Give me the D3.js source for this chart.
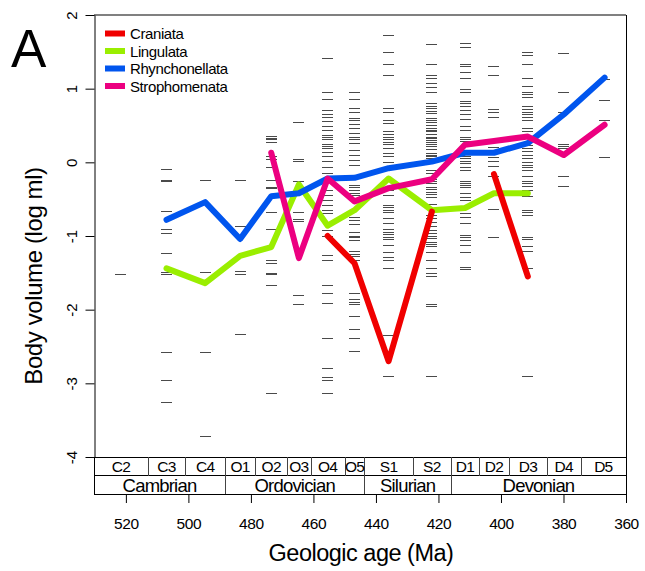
<!DOCTYPE html>
<html><head><meta charset="utf-8">
<script src="https://cdn.jsdelivr.net/npm/d3@7"></script>
<style>
body{margin:0;background:#fff}
svg{display:block;font-family:"Liberation Sans",Arial,Helvetica,sans-serif}
</style>
</head><body>
<svg id="chart" width="645" height="571"></svg>
<script>
// ---------------- DATA ----------------
const stages = ["C2","C3","C4","O1","O2","O3","O4","O5","S1","S2","D1","D2","D3","D4","D5"];
const stageBase = [530.2, 513, 501, 488.3, 478.6, 468.4, 460.9, 450, 443.7, 428.2, 416, 407, 397.5, 385.3, 374.5];
const stageTop  = [513, 501, 488.3, 478.6, 468.4, 460.9, 450, 443.7, 428.2, 416, 407, 397.5, 385.3, 374.5, 359.2];
const periods = ["Cambrian","Ordovician","Silurian","Devonian"];
const periodBase = [530.2, 488.3, 443.7, 416];
const periodTop  = [488.3, 443.7, 416, 359.2];
const xTicks = [520, 500, 480, 460, 440, 420, 400, 380, 360];
const yTicks = [-4, -3, -2, -1, 0, 1, 2];

const seriesNames = ["Craniata","Lingulata","Rhynchonellata","Strophomenata"];
const seriesColors = ["#F00000","#9AEE00","#0055EE","#EC0080"];
// mean log body volume per stage (null = no data)
const craniata       = [null,null,null,null,null,null,-1.00,-1.37,-2.70,-0.67,null,-0.16,-1.55,null,null];
const lingulata      = [null,-1.44,-1.64,-1.27,-1.15,-0.30,-0.86,-0.65,-0.22,-0.65,-0.62,-0.42,-0.42,null,null];
const rhynchonellata = [null,-0.78,-0.54,-1.04,-0.46,-0.42,-0.22,-0.21,-0.08,0.01,0.13,0.13,0.26,0.65,1.15];
const strophomenata  = [null,null,null,null,0.13,-1.30,-0.22,-0.53,-0.35,-0.23,0.24,0.29,0.35,0.10,0.51];

// individual genus log volumes per stage (rug dashes)
const genusVolumes = [
  [-1.51],
  [-0.09,-0.24,-0.26,-0.66,-0.90,-0.96,-1.23,-1.49,-1.51,-2.58,-2.95,-3.25],
  [-0.24,-1.49,-2.58,-3.72],
  [-0.24,-0.86,-1.48,-1.52,-2.33],
  [0.36,0.33,0.31,0.28,0.08,0.04,-0.07,-0.24,-0.33,-0.35,-0.67,-0.90,-1.33,-1.36,-1.50,-1.52,-1.67,-3.13],
  [0.55,0.04,0.02,-0.26,-0.67,-0.77,-0.79,-1.80,-1.92],
  [1.42,0.95,0.86,0.71,0.66,0.61,0.56,0.50,0.44,0.37,0.34,0.31,0.25,0.22,0.19,0.14,0.08,0.02,-0.06,-0.15,-0.37,-0.45,-0.51,-0.58,-0.65,-0.69,-0.81,-0.92,-1.00,-1.26,-1.33,-1.67,-1.77,-1.91,-2.39,-2.79,-2.91,-2.95,-3.13],
  [0.95,0.86,0.74,0.68,0.60,0.57,0.52,0.46,0.40,0.34,0.31,0.26,0.17,0.10,0.03,-0.03,-0.31,-0.34,-0.37,-0.42,-0.45,-0.74,-0.78,-0.84,-0.95,-1.00,-1.02,-1.05,-1.21,-1.24,-1.27,-1.33,-1.77,-1.85,-1.89,-1.92,-2.09,-2.26,-2.39,-2.56],
  [1.73,1.50,1.34,1.18,0.74,0.69,0.58,0.54,0.43,0.38,0.35,0.32,0.28,0.25,0.19,0.13,0.08,0.01,-0.26,-0.33,-0.37,-0.44,-0.58,-0.61,-0.65,-0.68,-0.75,-0.82,-0.91,-0.94,-0.97,-1.02,-1.04,-1.12,-1.22,-1.28,-1.33,-1.43,-2.34,-2.90],
  [1.60,1.34,1.18,1.15,1.08,1.02,0.96,0.80,0.77,0.74,0.70,0.67,0.60,0.57,0.55,0.51,0.47,0.44,0.42,0.39,0.35,0.33,0.30,0.28,0.25,0.22,0.18,0.13,0.10,0.08,0.06,-0.10,-0.14,-0.22,-0.25,-0.28,-0.33,-0.36,-0.40,-0.43,-0.47,-0.56,-0.71,-0.76,-0.81,-0.87,-0.92,-0.96,-1.00,-1.03,-1.08,-1.11,-1.14,-1.22,-1.33,-1.43,-1.50,-1.54,-1.92,-1.95,-2.90],
  [1.62,1.57,1.34,1.31,1.22,1.15,0.99,0.96,0.83,0.80,0.76,0.71,0.66,0.59,0.50,0.44,0.34,0.32,0.29,0.09,0.06,0.02,-0.01,-0.06,-0.10,-0.26,-0.28,-0.31,-0.33,-0.42,-0.47,-0.51,-0.69,-0.74,-0.82,-0.99,-1.01,-1.05,-1.12,-1.22,-1.42,-1.45],
  [1.31,1.18,0.72,0.69,0.62,0.21,0.07,0.02,-0.05,-0.18,-0.63,-1.02],
  [1.50,1.46,1.33,1.14,1.04,0.96,0.93,0.89,0.76,0.72,0.69,0.66,0.62,0.58,0.47,0.43,0.24,0.19,0.15,0.10,0.06,0.00,-0.03,-0.07,-0.11,-0.19,-0.25,-0.28,-0.32,-0.37,-0.46,-0.65,-0.68,-0.72,-1.01,-1.04,-1.13,-1.20,-1.43,-2.90],
  [1.49,0.96,0.69,0.25,0.22,0.19,-0.18,-0.32],
  [1.13,0.84,0.58,0.07]
];

// ---------------- LAYOUT ----------------
const svg = d3.select("#chart");
const L = 94, R = 626, T = 15, B = 457;
const rowMid = 475.5, rowBot = 494;
const x = d3.scaleLinear().domain([530.2, 360]).range([L, R]);
const y = d3.scaleLinear().domain([-4, 2]).range([B, T]);
const clampX = v => Math.max(L, Math.min(R, x(v)));
const mids = stages.map((s, i) => (stageBase[i] + stageTop[i]) / 2);

// panel label
svg.append("text").attr("x", 11).attr("y", 67).attr("font-size", 53).text("A");

// rug dashes
const dashG = svg.append("g").attr("stroke", "#4a4a4a").attr("stroke-width", 1.2).attr("shape-rendering", "crispEdges");
genusVolumes.forEach((vals, i) => {
  const cx = x(mids[i]);
  dashG.selectAll(null).data(vals).join("line")
    .attr("x1", cx - 5.5).attr("x2", cx + 5.5)
    .attr("y1", d => Math.round(y(d)) + 0.5).attr("y2", d => Math.round(y(d)) + 0.5);
});

// series lines
const seriesData = [lingulata, rhynchonellata, strophomenata, craniata];
const seriesCol = [seriesColors[1], seriesColors[2], seriesColors[3], seriesColors[0]];
const line = d3.line().defined(d => d.v !== null).x(d => x(d.a)).y(d => y(d.v));
seriesData.forEach((arr, k) => {
  svg.append("path")
    .datum(arr.map((v, i) => ({a: mids[i], v: v})))
    .attr("d", line)
    .attr("fill", "none").attr("stroke", seriesCol[k])
    .attr("stroke-width", 6).attr("stroke-linecap", "round").attr("stroke-linejoin", "round");
});

// legend
const leg = svg.append("g");
seriesNames.forEach((n, i) => {
  const cy = 33.5 + i * 17.5;
  leg.append("line").attr("x1", 105).attr("x2", 125).attr("y1", cy).attr("y2", cy)
    .attr("stroke", seriesColors[i]).attr("stroke-width", 6);
  leg.append("text").attr("x", 130).attr("y", cy + 5.5).attr("font-size", 15)
    .attr("letter-spacing", -0.4).text(n);
});

// frame: top gray, right black
svg.append("line").attr("x1", L).attr("x2", R).attr("y1", T).attr("y2", T)
  .attr("stroke", "#808080").attr("stroke-width", 2);
svg.append("line").attr("x1", R + 0.5).attr("x2", R + 0.5).attr("y1", T).attr("y2", rowBot)
  .attr("stroke", "#000").attr("stroke-width", 1);

// y axis
const yAxis = svg.append("g").attr("transform", `translate(${L + 0.5},0)`)
  .call(d3.axisLeft(y).tickValues(yTicks).tickSize(9).tickSizeOuter(0).tickFormat(d => String(d)));
yAxis.select(".domain").attr("stroke", "#000");
yAxis.selectAll(".tick line").attr("stroke", "#000");
yAxis.selectAll(".tick text")
  .attr("x", null).attr("dy", null).attr("text-anchor", "middle")
  .attr("transform", "translate(-18,0) rotate(-90)")
  .attr("font-size", 15).attr("font-family", "Liberation Sans, Arial, sans-serif").attr("fill", "#000");

// stage / period boxes
const box = svg.append("g").attr("fill", "none").attr("stroke", "#000").attr("stroke-width", 1)
  .attr("shape-rendering", "crispEdges");
box.append("line").attr("x1", L).attr("x2", R).attr("y1", B + 0.5).attr("y2", B + 0.5);
box.append("line").attr("x1", L).attr("x2", R).attr("y1", rowMid).attr("y2", rowMid);
box.append("line").attr("x1", L).attr("x2", R + 1).attr("y1", rowBot + 0.5).attr("y2", rowBot + 0.5);
box.append("line").attr("x1", L + 0.5).attr("x2", L + 0.5).attr("y1", B).attr("y2", rowBot);
box.selectAll(null).data(stageTop.slice(0, -1)).join("line")
  .attr("x1", d => Math.round(x(d)) + 0.5).attr("x2", d => Math.round(x(d)) + 0.5)
  .attr("y1", B).attr("y2", rowMid).attr("stroke", "#444");
box.selectAll(null).data(periodTop.slice(0, -1)).join("line")
  .attr("x1", d => Math.round(x(d)) + 0.5).attr("x2", d => Math.round(x(d)) + 0.5)
  .attr("y1", rowMid).attr("y2", rowBot).attr("stroke", "#444");

svg.append("g").selectAll("text").data(stages).join("text")
  .attr("x", (d, i) => (clampX(stageBase[i]) + clampX(stageTop[i])) / 2)
  .attr("y", 472).attr("text-anchor", "middle").attr("font-size", 15.5).attr("letter-spacing", -0.7)
  .text(d => d);
svg.append("g").selectAll("text").data(periods).join("text")
  .attr("x", (d, i) => (clampX(periodBase[i]) + clampX(periodTop[i])) / 2)
  .attr("y", 491.5).attr("text-anchor", "middle").attr("font-size", 18.5).attr("letter-spacing", -0.8)
  .text(d => d);

// x axis
const xAxis = svg.append("g").attr("transform", `translate(0,${rowBot})`)
  .call(d3.axisBottom(x).tickValues(xTicks).tickSize(9).tickSizeOuter(0));
xAxis.select(".domain").remove();
xAxis.selectAll(".tick line").attr("stroke", "#000");
xAxis.selectAll(".tick text").attr("y", 35).attr("dy", null)
  .attr("font-size", 15.5).attr("font-family", "Liberation Sans, Arial, sans-serif").attr("fill", "#000")
  .attr("letter-spacing", -0.4);

// axis titles
svg.append("text").attr("x", 361).attr("y", 561).attr("text-anchor", "middle")
  .attr("font-size", 23.5).attr("letter-spacing", -0.5).text("Geologic age (Ma)");
svg.append("text").attr("transform", "translate(42,276) rotate(-90)").attr("text-anchor", "middle")
  .attr("font-size", 24).attr("letter-spacing", -0.4).text("Body volume (log ml)");
</script>
</body></html>
